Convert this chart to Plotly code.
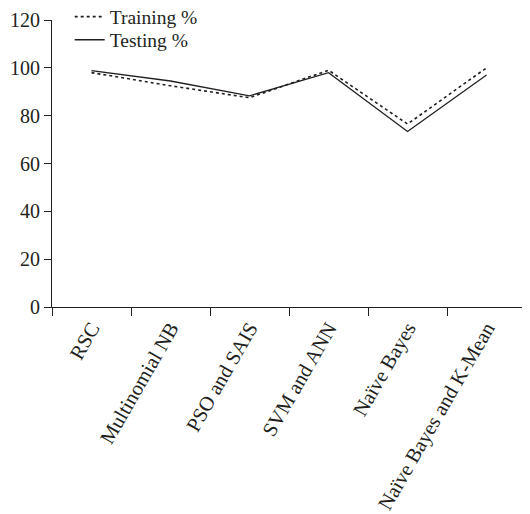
import plotly.graph_objects as go

categories = ["RSC", "Multinomial NB", "PSO and SAIS", "SVM and ANN",
              "Naïve Bayes", "Naïve Bayes and K-Mean"]
training = [98.0, 92.5, 87.5, 99.0, 76.5, 100.0]
testing = [98.8, 94.5, 88.3, 98.0, 73.4, 97.0]
y_ticks = [0, 20, 40, 60, 80, 100, 120]

ink = "#231f20"
fig = go.Figure()
fig.add_trace(go.Scatter(x=categories, y=training, mode="lines", name="Training %",
                         legend="legend",
                         line=dict(color=ink, width=1.6, dash="3px,3px")))
fig.add_trace(go.Scatter(x=categories, y=testing, mode="lines", name="Testing %",
                         legend="legend2",
                         line=dict(color=ink, width=1.3)))

legend_style = dict(xanchor="left", yanchor="middle", bgcolor="rgba(0,0,0,0)",
                    font=dict(size=19.5))
fig.update_layout(
    width=522, height=506,
    margin=dict(l=44, r=0, t=12, b=207, autoexpand=False),
    paper_bgcolor="white", plot_bgcolor="white",
    font=dict(family="Liberation Serif, Times New Roman, serif", size=20, color=ink),
    showlegend=True,
    legend=dict(x=0.037, y=1.0105, **legend_style),
    legend2=dict(x=0.037, y=0.930, **legend_style),
)
fig.update_xaxes(type="category", range=[-0.5, 5.55], tickson="boundaries",
                 showline=True, linecolor=ink, linewidth=1.2,
                 ticks="outside", ticklen=8, tickcolor=ink, tickwidth=1.2,
                 tickangle=-60, tickfont=dict(size=20.5),
                 showgrid=False, zeroline=False, automargin=False)
fig.update_yaxes(range=[0, 120], tickvals=y_ticks,
                 showline=True, linecolor=ink, linewidth=1.2,
                 ticks="outside", ticklen=7, tickcolor=ink, tickwidth=1.2,
                 tickfont=dict(size=20),
                 showgrid=False, zeroline=False, automargin=False)

fig.write_html("out.html")
